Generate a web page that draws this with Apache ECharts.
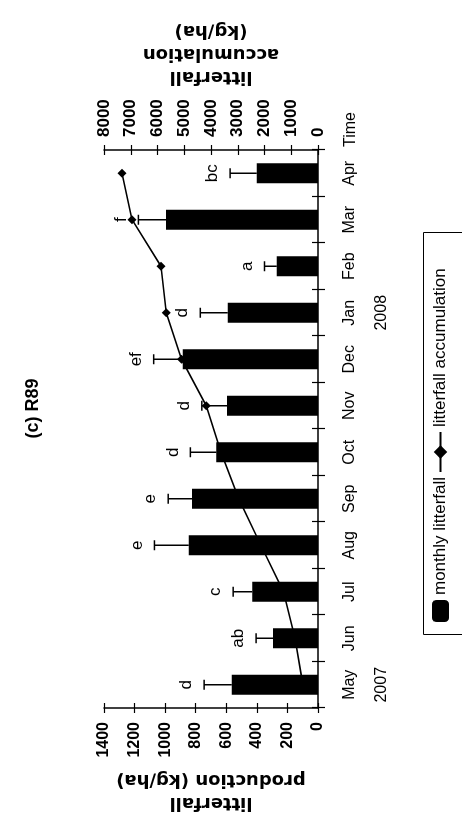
<!DOCTYPE html>
<html>
<head>
<meta charset="utf-8">
<script src="https://cdn.jsdelivr.net/npm/echarts@6/dist/echarts.min.js"></script>
<style>
  html, body { margin: 0; padding: 0; width: 462px; height: 817px; overflow: hidden; background: #fff; }
  /* the figure is laid out landscape and turned a quarter turn to stand upright */
  #chart {
    position: absolute; left: 0; top: 0;
    width: 817px; height: 462px;
    transform-origin: 0 0;
    transform: translate(0, 817px) rotate(-90deg);
  }
</style>
</head>
<body>
<div id="chart"></div>
<script>
// Monthly litterfall at plot R89, May 2007 - Apr 2008
const months = ['May', 'Jun', 'Jul', 'Aug', 'Sep', 'Oct', 'Nov', 'Dec', 'Jan', 'Feb', 'Mar', 'Apr'];
const years = ['2007', '', '', '', '', '', '', '', '2008', '', '', ''];
const monthlyLitterfall = [565, 295, 430, 845, 825, 665, 595, 885, 590, 270, 995, 400];   // kg/ha
const monthlyError = [180, 110, 125, 225, 155, 170, 165, 190, 180, 80, 180, 175];          // kg/ha
const accumulation = [565, 860, 1290, 2135, 2960, 3625, 4180, 5105, 5675, 5870, 6950, 7325]; // kg/ha
const letters = ['d', 'ab', 'c', 'e', 'e', 'd', 'd', 'ef', 'd', 'a', 'f', 'bc'];
const leftTicks = { min: 0, max: 1400, interval: 200 };
const rightTicks = { min: 0, max: 8000, interval: 1000 };

const categories = months.map((m, i) => years[i] ? m + '\n' + years[i] : m);

const FONT = 'Liberation Sans, Arial, sans-serif';
const TITLE_FONT = 'DejaVu Sans, sans-serif';
const plainNumber = v => String(v);

const chart = echarts.init(document.getElementById('chart'), null, { renderer: 'canvas' });

const catAxisBase = {
  type: 'category',
  data: categories,
  position: 'bottom',
  boundaryGap: true
};

const option = {
  animation: false,
  backgroundColor: '#fff',
  title: {
    text: '(c) R89',
    left: 'center',
    top: 19,
    textStyle: { fontFamily: FONT, fontSize: 18, fontWeight: 'bold', color: '#000' }
  },
  grid: { left: 109, right: 150, top: 104, bottom: 144, containLabel: false, outerBoundsMode: 'none' },
  legend: [
    {
      data: ['monthly litterfall'],
      left: 195, top: 432,
      padding: 0,
      itemWidth: 22, itemHeight: 17,
      icon: 'roundRect',
      itemGap: 0,
      textStyle: { fontFamily: FONT, fontSize: 17, color: '#000' }
    },
    {
      data: ['litterfall accumulation'],
      left: 344, top: 432,
      padding: 0,
      itemWidth: 40, itemHeight: 17,
      textStyle: { fontFamily: FONT, fontSize: 17, color: '#000' }
    }
  ],
  graphic: [
    {
      type: 'rect',
      shape: { x: 182.5, y: 423.5, width: 402, height: 60 },
      style: { fill: 'none', stroke: '#000', lineWidth: 1 },
      silent: true
    },
    {
      // time-axis caption, level with the month labels
      type: 'text',
      left: 670, top: 343,
      silent: true,
      style: { text: 'Time', fontFamily: FONT, fontSize: 16, fill: '#000' }
    }
  ],
  xAxis: [
    Object.assign({}, catAxisBase, {
      axisLine: { show: true, lineStyle: { color: '#000', width: 1.5 } },
      axisTick: { show: true, inside: false, length: 7, lineStyle: { color: '#000', width: 1.2 } },
      axisLabel: {
        fontFamily: FONT, fontSize: 16, color: '#000',
        margin: 16, lineHeight: 32, interval: 0
      }
    }),
    Object.assign({}, catAxisBase, {
      axisLine: { show: false },
      axisTick: { show: true, inside: true, length: 6, lineStyle: { color: '#000', width: 1.2 } },
      axisLabel: { show: false }
    })
  ],
  yAxis: [
    {
      type: 'value', position: 'left',
      min: leftTicks.min, max: leftTicks.max, interval: leftTicks.interval,
      name: 'litterfall\nproduction (kg/ha)',
      nameLocation: 'middle', nameRotate: 90, nameGap: 55,
      nameTextStyle: { fontFamily: TITLE_FONT, fontSize: 18, fontWeight: 'bold', color: '#000', lineHeight: 23 },
      splitLine: { show: false },
      axisLine: { show: true, lineStyle: { color: '#000', width: 1.5 } },
      axisTick: { show: true, inside: false, length: 5, lineStyle: { color: '#000', width: 1.2 } },
      axisLabel: { fontFamily: FONT, fontSize: 16, fontWeight: 'bold', color: '#000', margin: 14, formatter: plainNumber }
    },
    {
      type: 'value', position: 'right',
      min: rightTicks.min, max: rightTicks.max, interval: rightTicks.interval,
      name: 'litterfall\naccumulation\n(kg/ha)',
      nameLocation: 'middle', nameRotate: 90, nameGap: 59,
      nameTextStyle: { fontFamily: TITLE_FONT, fontSize: 18, fontWeight: 'bold', color: '#000', lineHeight: 23 },
      splitLine: { show: false },
      axisLine: { show: true, lineStyle: { color: '#000', width: 1.5 } },
      axisTick: { show: true, inside: false, length: 5, lineStyle: { color: '#000', width: 1.2 } },
      axisLabel: { fontFamily: FONT, fontSize: 17, fontWeight: 'bold', color: '#000', margin: 13, formatter: plainNumber }
    },
    {
      type: 'value', position: 'left',
      min: leftTicks.min, max: leftTicks.max, interval: leftTicks.interval,
      splitLine: { show: false },
      axisLine: { show: false },
      axisTick: { show: true, inside: true, length: 5, lineStyle: { color: '#000', width: 1.2 } },
      axisLabel: { show: false }
    },
    {
      type: 'value', position: 'right',
      min: rightTicks.min, max: rightTicks.max, interval: rightTicks.interval,
      splitLine: { show: false },
      axisLine: { show: false },
      axisTick: { show: true, inside: true, length: 5, lineStyle: { color: '#000', width: 1.2 } },
      axisLabel: { show: false }
    }
  ],
  series: [
    {
      name: 'litterfall accumulation',
      type: 'line',
      xAxisIndex: 0, yAxisIndex: 1,
      data: accumulation,
      z: 1,
      symbol: 'diamond',
      symbolSize: 9,
      showAllSymbol: true,
      lineStyle: { color: '#000', width: 1.6 },
      itemStyle: { color: '#000' }
    },
    {
      name: 'monthly litterfall',
      type: 'bar',
      xAxisIndex: 0, yAxisIndex: 0,
      data: monthlyLitterfall,
      barWidth: 20,
      z: 3,
      itemStyle: { color: '#000' }
    },
    {
      name: 'error',
      type: 'custom',
      xAxisIndex: 0, yAxisIndex: 0,
      z: 4,
      data: monthlyLitterfall.map((v, i) => [i, v, monthlyError[i]]),
      encode: { x: 0, y: 1 },
      renderItem: function (params, api) {
        const i = api.value(0);
        const v = api.value(1);
        const e = api.value(2);
        const top = api.coord([i, v]);
        const end = api.coord([i, v + e]);
        const cap = 5;
        return {
          type: 'group',
          children: [
            { type: 'line', shape: { x1: top[0], y1: top[1], x2: end[0], y2: end[1] },
              style: { stroke: '#000', lineWidth: 1.5 } },
            { type: 'line', shape: { x1: end[0] - cap, y1: end[1], x2: end[0] + cap, y2: end[1] },
              style: { stroke: '#000', lineWidth: 1.5 } },
            { type: 'text', x: end[0], y: end[1] - 9,
              style: { text: letters[params.dataIndex], fontFamily: FONT, fontSize: 17,
                       fill: '#000', align: 'center', verticalAlign: 'bottom' } }
          ]
        };
      }
    }
  ]
};

chart.setOption(option);
</script>
</body>
</html>
